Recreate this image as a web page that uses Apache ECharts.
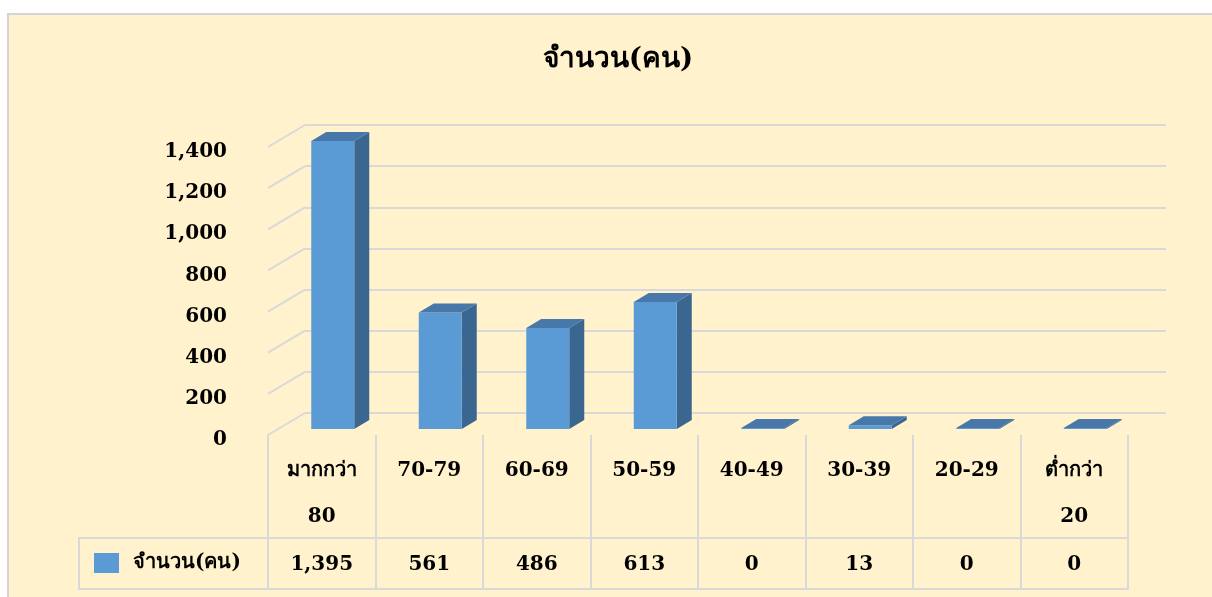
<!DOCTYPE html>
<html><head><meta charset="utf-8">
<script src="https://cdn.jsdelivr.net/npm/echarts@6/dist/echarts.min.js"></script>
<style>html,body{margin:0;padding:0;background:#fff}#c{width:1212px;height:597px}</style>
</head><body><div id="c"></div>
<script>
const categories = ['มากกว่า\n80', '70-79', '60-69', '50-59', '40-49', '30-39', '20-29', 'ต่ำกว่า\n20'];
const values = [1395, 561, 486, 613, 0, 13, 0, 0];
const yTicks = [0, 200, 400, 600, 800, 1000, 1200, 1400];
const seriesName = 'จำนวน(คน)';
const titleText = 'จำนวน(คน)';

const fmt = v => v.toLocaleString('en-US');
const FONT = '"DejaVu Serif", "Liberation Serif", serif';
const GRID = '#D9D9D9';
const chart = echarts.init(document.getElementById('c'), null, {renderer: 'canvas'});

const option = {
  backgroundColor: '#FFF2CC',
  animation: false,
  title: {
    text: titleText, left: 618, textAlign: 'center', top: 43, padding: 0,
    textStyle: {fontFamily: FONT, fontWeight: 'bold', fontSize: 28, color: '#000', lineHeight: 34}
  },
  legend: {
    data: [seriesName], left: 94, top: 553, itemWidth: 25, itemHeight: 20, icon: 'rect',
    selectedMode: false, padding: 0,
    textStyle: {fontFamily: FONT, fontWeight: 'bold', fontSize: 20, color: '#000', padding: [3, 0, 0, 9]}
  },
  grid: [
    {left: 268, top: 147, width: 860, height: 288},
    {left: 305, top: 125, width: 861, height: 288}
  ],
  xAxis: [
    {
      type: 'category', gridIndex: 0, data: categories, position: 'bottom',
      axisLine: {show: false},
      axisTick: {show: true, length: 154, lineStyle: {color: GRID, width: 2}},
      axisLabel: {interval: 0, margin: 13, verticalAlign: 'top', lineHeight: 46,
        fontFamily: FONT, fontWeight: 'bold', fontSize: 20, color: '#000'}
    },
    {
      type: 'category', gridIndex: 0, data: values.map(fmt), position: 'bottom',
      axisLine: {show: false}, axisTick: {show: false},
      axisLabel: {interval: 0, margin: 130, verticalAlign: 'middle',
        fontFamily: FONT, fontWeight: 'bold', fontSize: 20, color: '#000'}
    },
    {
      type: 'category', gridIndex: 1, data: categories, show: false
    }
  ],
  yAxis: [
    {
      type: 'value', gridIndex: 0, min: 0, max: 1400, interval: 200,
      axisLine: {show: false}, axisTick: {show: false}, splitLine: {show: false},
      axisLabel: {margin: 41, formatter: v => fmt(v), verticalAlign: 'top', lineHeight: 20, padding: [-5, 0, 0, 0],
        fontFamily: FONT, fontWeight: 'bold', fontSize: 20, color: '#000'}
    },
    {
      type: 'value', gridIndex: 1, min: 0, max: 1400, interval: 200,
      axisLine: {show: false}, axisTick: {show: false}, axisLabel: {show: false},
      splitLine: {show: true, lineStyle: {color: GRID, width: 2}}
    }
  ],
  graphic: [
    {type: 'rect', shape: {x: 0, y: 0, width: 1212, height: 13}, style: {fill: '#fff'}, silent: true},
    {type: 'rect', shape: {x: 0, y: 0, width: 7, height: 597}, style: {fill: '#fff'}, silent: true},
    {type: 'line', shape: {x1: 7, y1: 14, x2: 1212, y2: 14}, style: {stroke: '#D4D4D4', lineWidth: 2}, silent: true},
    {type: 'line', shape: {x1: 8, y1: 13, x2: 8, y2: 597}, style: {stroke: '#D4D4D4', lineWidth: 2}, silent: true},
    {type: 'line', shape: {x1: 79, y1: 538, x2: 1129, y2: 538}, style: {stroke: GRID, lineWidth: 2}, silent: true},
    {type: 'line', shape: {x1: 79, y1: 589, x2: 1129, y2: 589}, style: {stroke: GRID, lineWidth: 2}, silent: true},
    {type: 'line', shape: {x1: 79, y1: 537, x2: 79, y2: 590}, style: {stroke: GRID, lineWidth: 2}, silent: true}
  ],
  series: [
    {
      type: 'custom', xAxisIndex: 0, yAxisIndex: 0, silent: true, z: 1,
      data: yTicks.map(v => [0, v]),
      renderItem(params, api) {
        const v = api.value(1);
        const p = api.coord([0, v]);
        const half = api.size([1, 0])[0] / 2;
        const x0 = p[0] - half;
        return {type: 'line', shape: {x1: x0, y1: p[1], x2: x0 + 37, y2: p[1] - 22},
          style: {stroke: GRID, lineWidth: 2}};
      }
    },
    {
      name: seriesName, type: 'custom', xAxisIndex: 0, yAxisIndex: 0, z: 3,
      itemStyle: {color: '#5B9BD5'},
      data: values.map((v, i) => [i, v]),
      renderItem(params, api) {
        const i = api.value(0), v = api.value(1);
        const top = api.coord([i, v]);
        const base = api.coord([i, 0]);
        const fx = 11, fy = -6, dx = 15, dy = -9, hw = 21.5;
        const cx = top[0] + fx;
        const yt = top[1] + fy - 1, yb = base[1] + fy;
        const xl = cx - hw, xr = cx + hw;
        return {type: 'group', children: [
          {type: 'polygon', shape: {points: [[xr, yt], [xr + dx, yt + dy], [xr + dx, yb + dy], [xr, yb]]},
            style: {fill: '#3A6690'}},
          {type: 'rect', shape: {x: xl, y: yt, width: hw * 2, height: yb - yt}, style: {fill: '#5B9BD5'}},
          {type: 'polygon', shape: {points: [[xl, yt], [xl + dx, yt + dy], [xr + dx, yt + dy], [xr, yt]]},
            style: {fill: '#4778A9'}}
        ]};
      }
    }
  ]
};
chart.setOption(option);
</script>
</body></html>
